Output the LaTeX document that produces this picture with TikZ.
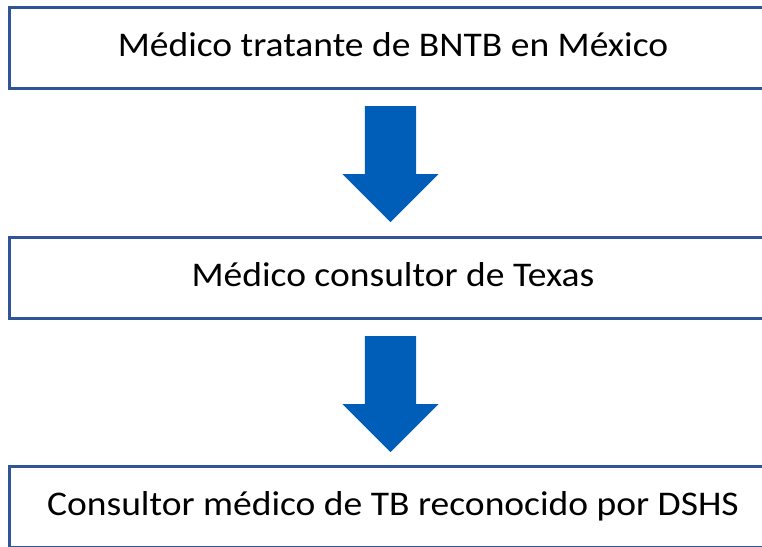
\documentclass[tikz,border=0pt]{standalone}
\usepackage{fontspec}
\setmainfont{Carlito}[FakeStretch=1.085]
\usetikzlibrary{shapes.arrows,calc}
\definecolor{boxline}{RGB}{47,85,151}
\definecolor{arrowfill}{RGB}{0,94,184}
\begin{document}
\begin{tikzpicture}[x=1pt,y=-1pt,
  flowbox/.style={draw=boxline,line width=3pt,fill=white,rectangle,minimum width=768pt,minimum height=81pt,inner sep=0pt,text height=30pt,text depth=12.4pt,font=\fontsize{34.6}{40}\selectfont},
  blockarrow/.style={single arrow,fill=arrowfill,draw=none,minimum height=116pt,single arrow head extend=22.5pt,single arrow head indent=0pt,inner xsep=0pt,inner ysep=25.5pt,text height=0pt,text depth=0pt,rotate=-90,anchor=tail}]
\useasboundingbox (0,0) rectangle (762,546);
\begin{scope}
\clip (0,0) rectangle (762,546);
\node[flowbox] (b1) at (393,47.5) {Médico tratante de BNTB en México};
\node[flowbox] (b2) at (393,277.5) {Médico consultor de Texas};
\node[flowbox] (b3) at (393,506.5) {Consultor médico de TB reconocido por DSHS};
\node[blockarrow] (a1) at ($(b1.south)+(-2.5,16.5)$) {};
\node[blockarrow] (a2) at ($(b2.south)+(-2.5,16.5)$) {};
\end{scope}
\end{tikzpicture}
\end{document}
